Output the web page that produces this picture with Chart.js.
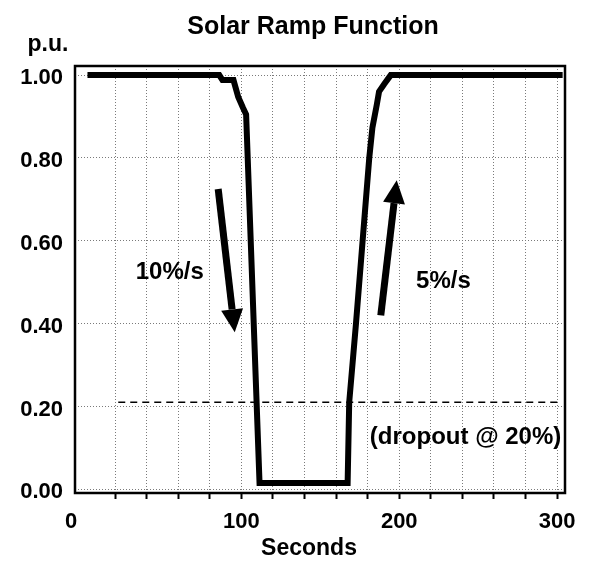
<!DOCTYPE html>
<html>
<head>
<meta charset="utf-8">
<title>Solar Ramp Function</title>
<script src="https://cdn.jsdelivr.net/npm/chart.js@4.4.1/dist/chart.umd.min.js"></script>
<style>
  html, body { margin: 0; padding: 0; background: #fff; }
  #wrap { width: 593px; height: 567px; position: relative; }
</style>
</head>
<body>
<div id="wrap"><canvas id="rampChart"></canvas></div>
<script>
// data (seconds, per unit)
const rampSeconds = [2.5, 86, 88, 95, 98, 101, 103, 111.5, 167.3, 168.3, 172.6, 176.8, 181, 183, 185.8, 187.2, 190.4, 194.6, 303.5];
const rampPU      = [1.0, 1.0, 0.988, 0.988, 0.947, 0.921, 0.905, 0.015, 0.015, 0.21, 0.40, 0.60, 0.80, 0.873, 0.929, 0.96, 0.978, 1.0, 1.0];

const dropoutSeconds = [22, 301];
const dropoutPU      = [0.21, 0.21];

const xTicks = [0, 20, 40, 60, 80, 100, 120, 140, 160, 180, 200, 220, 240, 260, 280, 300];
const yTicks = [0, 0.2, 0.4, 0.6, 0.8, 1.0];

// arrows: [tail, tip] in data units
const fallArrow = [[85.3, 0.725], [95.8, 0.379]];
const riseArrow = [[188.3, 0.42], [198.4, 0.746]];

const notes = [
  { text: '10%/s', x: 54.6, y: 0.523 },
  { text: '5%/s', x: 228, y: 0.502 },
  { text: '(dropout @ 20%)', x: 242, y: 0.126 }
];

const FONT = '"Liberation Sans", Arial, Helvetica, sans-serif';

function toPoints(xs, ys) {
  return xs.map((x, i) => ({ x: x, y: ys[i] }));
}

// frame, titles, arrows and notes
const decor = {
  id: 'decor',
  afterDatasetsDraw(chart) {
    const ctx = chart.ctx;
    const xs = chart.scales.x, ys = chart.scales.y;
    const area = chart.chartArea;

    ctx.save();
    // arrows
    [fallArrow, riseArrow].forEach(arr => {
      const x0 = xs.getPixelForValue(arr[0][0]), y0 = ys.getPixelForValue(arr[0][1]);
      const x1 = xs.getPixelForValue(arr[1][0]), y1 = ys.getPixelForValue(arr[1][1]);
      const ang = Math.atan2(y1 - y0, x1 - x0);
      const headLen = 23, headW = 11;
      const bx = x1 - headLen * Math.cos(ang), by = y1 - headLen * Math.sin(ang);
      ctx.strokeStyle = '#000';
      ctx.lineWidth = 7;
      ctx.lineCap = 'butt';
      ctx.beginPath();
      ctx.moveTo(x0, y0);
      ctx.lineTo(bx, by);
      ctx.stroke();
      ctx.fillStyle = '#000';
      ctx.beginPath();
      ctx.moveTo(x1, y1);
      ctx.lineTo(bx + headW * Math.sin(ang), by - headW * Math.cos(ang));
      ctx.lineTo(bx - headW * Math.sin(ang), by + headW * Math.cos(ang));
      ctx.closePath();
      ctx.fill();
    });

    // notes
    ctx.fillStyle = '#000';
    ctx.textAlign = 'center';
    ctx.textBaseline = 'middle';
    ctx.font = 'bold 24px ' + FONT;
    notes.forEach(n => {
      ctx.fillText(n.text, xs.getPixelForValue(n.x), ys.getPixelForValue(n.y));
    });

    // plot frame
    ctx.strokeStyle = '#000';
    ctx.lineWidth = 2.5;
    ctx.strokeRect(area.left, area.top, area.right - area.left, area.bottom - area.top);

    // the "0" label sits left of its tick in the original
    ctx.font = 'bold 22px ' + FONT;
    ctx.fillText('0', area.left - 4, 522);

    // titles
    ctx.font = 'bold 25px ' + FONT;
    ctx.fillText('Solar Ramp Function', 313, 27);
    ctx.font = 'bold 23px ' + FONT;
    ctx.fillText('p.u.', 48, 45);
    ctx.fillText('Seconds', 309, 549);
    ctx.restore();
  }
};

const gridColor = '#7a7a7a';

new Chart(document.getElementById('rampChart'), {
  type: 'line',
  data: {
    datasets: [
      {
        label: 'Solar output',
        data: toPoints(rampSeconds, rampPU),
        borderColor: '#000',
        borderWidth: 6,
        pointRadius: 0,
        tension: 0,
        borderCapStyle: 'butt',
        borderJoinStyle: 'miter'
      },
      {
        label: 'Dropout',
        data: toPoints(dropoutSeconds, dropoutPU),
        borderColor: '#000',
        borderWidth: 1.5,
        borderDash: [7, 5],
        pointRadius: 0
      }
    ]
  },
  options: {
    responsive: true,
    maintainAspectRatio: false,
    animation: false,
    layout: { padding: { top: 66, right: 28, left: 0, bottom: 0 } },
    plugins: {
      legend: { display: false },
      tooltip: { enabled: false },
      title: { display: false }
    },
    scales: {
      x: {
        type: 'linear',
        min: -5.4,
        max: 305,
        afterBuildTicks: scale => { scale.ticks = xTicks.map(v => ({ value: v })); },
        afterFit: scale => { scale.height = 74; },
        border: { display: false, dash: [1, 2] },
        grid: {
          color: c => (c.tick && c.tick.value === 0 ? 'transparent' : gridColor),
          lineWidth: 1,
          tickColor: c => (c.tick && c.tick.value === 0 ? 'transparent' : '#000'),
          tickWidth: 2,
          tickLength: 6,
          tickBorderDash: []
        },
        ticks: {
          autoSkip: false,
          maxRotation: 0,
          padding: 10,
          color: '#000',
          font: { family: FONT, size: 22, weight: 'bold' },
          callback: v => (v !== 0 && v % 100 === 0 ? String(v) : '')
        }
      },
      y: {
        min: -0.009,
        max: 1.022,
        afterBuildTicks: scale => { scale.ticks = yTicks.map(v => ({ value: v })); },
        afterFit: scale => { scale.width = 75; },
        border: { display: false, dash: [1, 2] },
        grid: {
          color: gridColor,
          lineWidth: 1,
          drawTicks: false
        },
        ticks: {
          padding: 12,
          labelOffset: 3,
          color: '#000',
          font: { family: FONT, size: 22, weight: 'bold' },
          callback: v => v.toFixed(2)
        }
      }
    }
  },
  plugins: [decor]
});
</script>
</body>
</html>
